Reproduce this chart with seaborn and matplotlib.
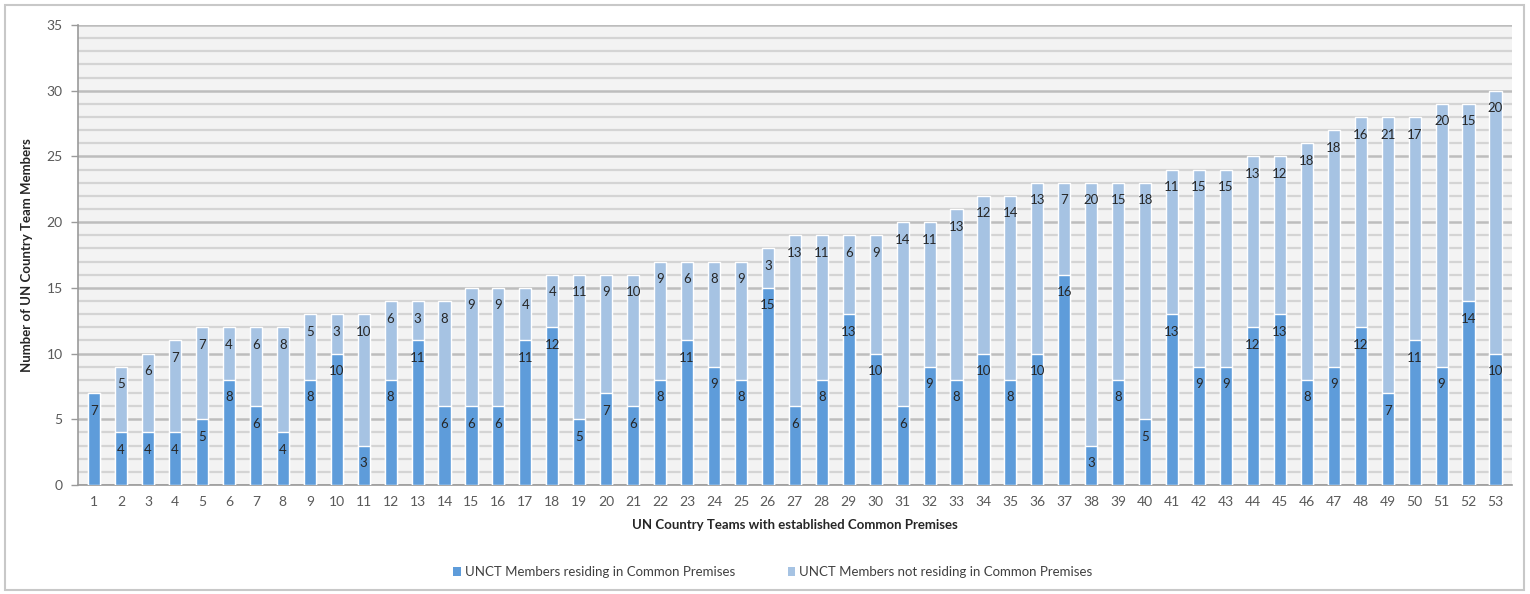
import matplotlib
matplotlib.use("Agg")
import matplotlib.pyplot as plt
from matplotlib.patches import Patch, Rectangle
from matplotlib.ticker import MultipleLocator
import seaborn as sns
import pandas as pd

# data
teams = list(range(1, 54))
residing = [7, 4, 4, 4, 5, 8, 6, 4, 8, 10, 3, 8, 11, 6, 6, 6, 11, 12, 5, 7,
            6, 8, 11, 9, 8, 15, 6, 8, 13, 10, 6, 9, 8, 10, 8, 10, 16, 3, 8, 5,
            13, 9, 9, 12, 13, 8, 9, 12, 7, 11, 9, 14, 10]
not_residing = [0, 5, 6, 7, 7, 4, 6, 8, 5, 3, 10, 6, 3, 8, 9, 9, 4, 4, 11, 9,
                10, 9, 6, 8, 9, 3, 13, 11, 6, 9, 14, 11, 13, 12, 14, 13, 7, 20, 15, 18,
                11, 15, 15, 13, 12, 18, 18, 16, 21, 17, 20, 15, 20]
series_names = ["UNCT Members residing in Common Premises",
                "UNCT Members not residing in Common Premises"]

df = pd.DataFrame({"team": [str(t) for t in teams],
                   "residing": residing,
                   "not_residing": not_residing})
df["total"] = df["residing"] + df["not_residing"]

dark = "#5e9cda"
light = "#a6c3e3"

sns.set_style("white")
plt.rcParams["font.family"] = ["Lato", "DejaVu Sans"]

fig = plt.figure(figsize=(15.3, 5.94), dpi=100)
ax = fig.add_axes([0.051, 0.1835, 0.937, 0.7745])

# stacked bars: totals in light colour, residing drawn over them in dark
sns.barplot(data=df, x="team", y="total", color=light, saturation=1,
            width=0.45, ax=ax, zorder=3)
sns.barplot(data=df, x="team", y="residing", color=dark, saturation=1,
            width=0.45, ax=ax, zorder=3)

top_bars = ax.containers[0]
low_bars = ax.containers[1]
ax.bar_label(top_bars, labels=[str(v) if v else "" for v in not_residing],
             padding=-17, fontsize=9.5, color="#262626", zorder=4)
ax.bar_label(low_bars, labels=[str(v) for v in residing],
             padding=-17, fontsize=9.5, color="#262626", zorder=4)

ax.set_facecolor("#f3f3f3")
ax.set_ylim(0, 35)
ax.set_xlim(-0.6, len(teams) - 0.4)
ax.yaxis.set_major_locator(MultipleLocator(5))
ax.yaxis.set_minor_locator(MultipleLocator(1))
ax.grid(which="minor", axis="y", color="#d4d4d4", linewidth=1.6, zorder=0)
ax.grid(which="major", axis="y", color="#bdbdbd", linewidth=1.8, zorder=0)
ax.set_axisbelow(True)

for side in ["top", "right"]:
    ax.spines[side].set_visible(False)
for side in ["left", "bottom"]:
    ax.spines[side].set_color("#9a9a9a")
    ax.spines[side].set_linewidth(1.2)

# excel-like ticks between categories
ax.set_xticks([i + 0.5 for i in range(-1, len(teams))], minor=True)
ax.tick_params(axis="x", which="major", length=0, pad=8, labelsize=10,
               labelcolor="#595959")
ax.tick_params(axis="x", which="minor", length=5, color="#9a9a9a", width=1)
ax.tick_params(axis="y", which="major", length=5, color="#9a9a9a", width=1,
               left=True, labelsize=10, labelcolor="#595959", pad=6)
ax.tick_params(axis="y", which="minor", length=0)

ax.set_xlabel("UN Country Teams with established Common Premises",
              fontsize=9.5, fontweight="bold", color="#262626", labelpad=8)
ax.set_ylabel("Number of UN Country Team Members", fontsize=9.5,
              fontweight="bold", color="#262626", labelpad=10)

handles = [Patch(facecolor=dark, edgecolor="none"),
           Patch(facecolor=light, edgecolor="none")]
fig.legend(handles, series_names, loc="center", bbox_to_anchor=(0.505, 0.037),
           ncol=2, frameon=False, fontsize=9.5, handlelength=0.55,
           handleheight=0.7, handletextpad=0.3, columnspacing=4,
           labelcolor="#404040")

# outer chart border
fig.patches.append(Rectangle((0.003, 0.006), 0.993, 0.985,
                             transform=fig.transFigure, fill=False,
                             edgecolor="#c8c8c8", linewidth=1.5))

fig.savefig("out.png", dpi=100)
